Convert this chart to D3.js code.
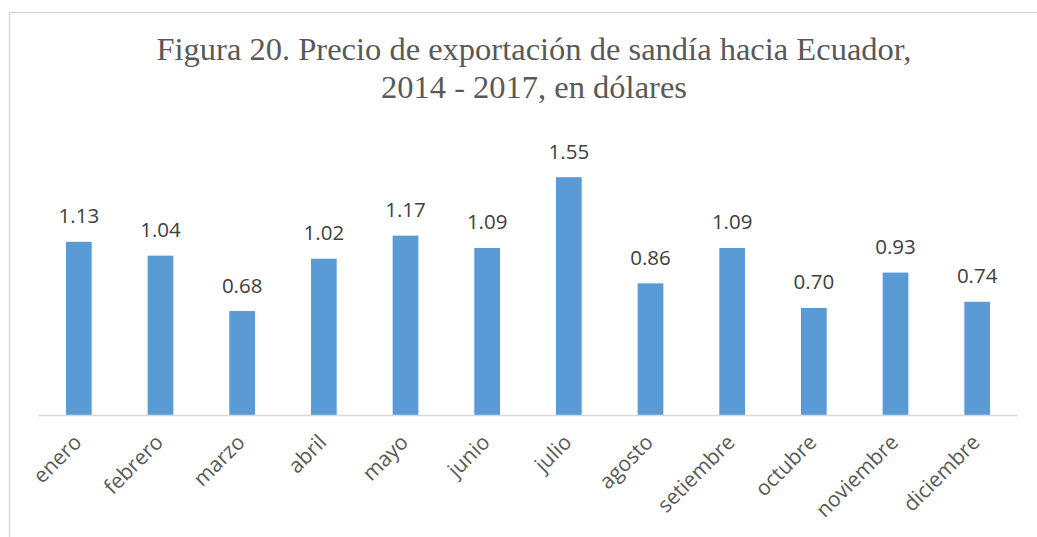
<!DOCTYPE html>
<html>
<head>
<meta charset="utf-8">
<script src="https://d3js.org/d3.v7.min.js"></script>
<style>
  body { margin: 0; background: #fff; }
  svg { display: block; }
</style>
</head>
<body>
<div id="chart"></div>
<script>
// data
var months = ['enero', 'febrero', 'marzo', 'abril', 'mayo', 'junio',
  'julio', 'agosto', 'setiembre', 'octubre', 'noviembre', 'diciembre']
var prices = [1.13, 1.04, 0.68, 1.02, 1.17, 1.09, 1.55, 0.86, 1.09, 0.70, 0.93, 0.74]
var titleLines = ['Figura 20. Precio de exportación de sandía hacia Ecuador,',
  '2014 - 2017, en dólares']

var svgWidth = 1037
var svgHeight = 537

var svg = d3.select('#chart')
  .append('svg')
  .attr('width', svgWidth)
  .attr('height', svgHeight)

// outer chart border (cut off on the right and bottom)
svg.append('rect')
  .attr('x', 9.5)
  .attr('y', 12.5)
  .attr('width', 1100)
  .attr('height', 600)
  .attr('fill', 'none')
  .attr('stroke', '#d9d9d9')
  .attr('stroke-width', 1.5)

// title
svg.append('text')
  .attr('x', 534)
  .attr('y', 60)
  .attr('text-anchor', 'middle')
  .attr('font-family', '"Liberation Serif", "Times New Roman", serif')
  .attr('font-size', '32.5px')
  .attr('fill', '#595959')
  .selectAll('tspan')
  .data(titleLines)
  .enter()
  .append('tspan')
  .attr('x', 534)
  .attr('dy', (d, i) => i === 0 ? 0 : 38)
  .text(d => d)

var plotLeft = 38
var plotRight = 1018
var baseY = 415.6

var x = d3.scaleBand()
  .domain(months)
  .range([plotLeft, plotRight])
  .paddingInner(0.685)
  .paddingOuter(0.3425)

var y = d3.scaleLinear()
  .domain([0, 1.8])
  .range([baseY, baseY - 1.8 * 153.8])

var labelFont = '"Open Sans", "Noto Sans", sans-serif'

// bars
svg.append('g')
  .selectAll('rect')
  .data(prices)
  .enter()
  .append('rect')
  .attr('x', (d, i) => x(months[i]))
  .attr('y', d => y(d))
  .attr('width', x.bandwidth())
  .attr('height', d => baseY - y(d))
  .attr('fill', '#5b9bd5')

// value labels
svg.append('g')
  .selectAll('text')
  .data(prices)
  .enter()
  .append('text')
  .attr('x', (d, i) => x(months[i]) + x.bandwidth() / 2)
  .attr('y', d => y(d) - 18.5)
  .attr('text-anchor', 'middle')
  .attr('font-family', labelFont)
  .attr('font-size', '20.5px')
  .attr('fill', '#404040')
  .text(d => d.toFixed(2))

// x axis
var xAxis = svg.append('g')
  .attr('transform', `translate(0, ${baseY})`)
  .call(d3.axisBottom(x).tickSize(0).tickPadding(0))

xAxis.select('.domain')
  .attr('stroke', '#d9d9d9')
  .attr('stroke-width', 1.5)
  .attr('d', `M${plotLeft},0H${plotRight}`)

xAxis.selectAll('.tick text')
  .attr('font-family', labelFont)
  .attr('font-size', '21px')
  .attr('fill', '#595959')
  .attr('text-anchor', 'end')
  .attr('dy', 0)
  .attr('y', 0)
  .attr('transform', 'translate(4, 28) rotate(-45)')
</script>
</body>
</html>
